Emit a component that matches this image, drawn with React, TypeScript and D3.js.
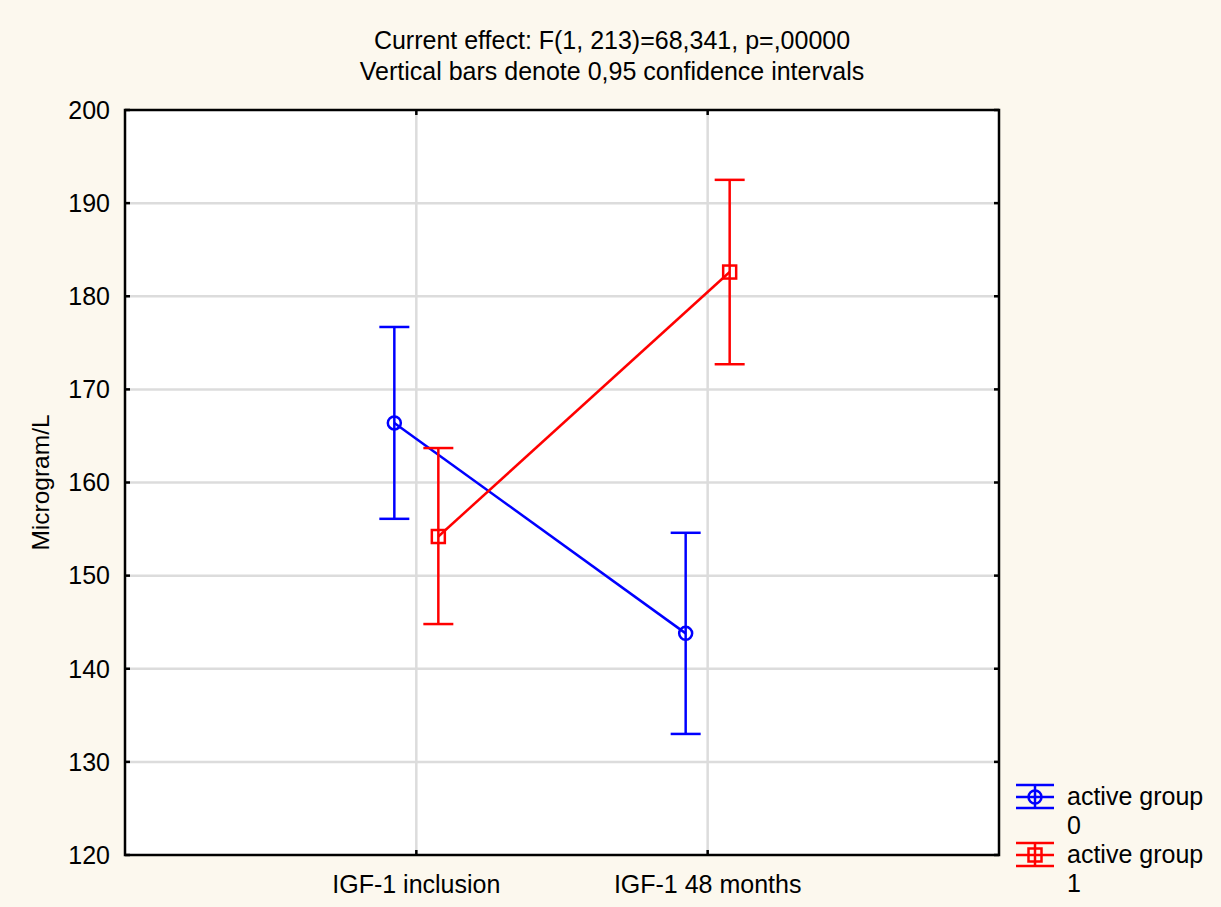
import React from 'react';
import * as d3 from 'd3';

const categories = ['IGF-1 inclusion', 'IGF-1 48 months'];
const groupNames = ['active group\n0', 'active group\n1'];
const group0Mean = [166.4, 143.8];
const group0Low = [156.1, 133.0];
const group0High = [176.7, 154.6];
const group1Mean = [154.2, 182.6];
const group1Low = [144.8, 172.7];
const group1High = [163.7, 192.5];
const yTicks = [120, 130, 140, 150, 160, 170, 180, 190, 200];
const titleLines = [
  'Current effect: F(1, 213)=68,341, p=,00000',
  'Vertical bars denote 0,95 confidence intervals',
];

const W = 1221;
const H = 907;
const m = { left: 125, right: 999, top: 110, bottom: 855 };
const font = '"Liberation Sans", Arial, sans-serif';

const series = [
  { name: groupNames[0], mean: group0Mean, low: group0Low, high: group0High, color: '#0000ff', shape: 'circle', shift: -22 },
  { name: groupNames[1], mean: group1Mean, low: group1Low, high: group1High, color: '#ff0000', shape: 'square', shift: 22 },
];

const x = d3.scalePoint<string>().domain(categories).range([m.left, m.right]).padding(1);
const y = d3.scaleLinear().domain([120, 200]).range([m.bottom, m.top]);

const Marker = ({ cx, cy, shape, color }: any) =>
  shape === 'circle'
    ? <circle cx={cx} cy={cy} r={6.5} fill="none" stroke={color} strokeWidth={2.5} />
    : <rect x={cx - 6.5} y={cy - 6.5} width={13} height={13} fill="none" stroke={color} strokeWidth={2.5} />;

const ErrorBar = ({ cx, lo, hi, color, half = 15 }: any) => (
  <g stroke={color} strokeWidth={2.5}>
    <line x1={cx} x2={cx} y1={lo} y2={hi} />
    <line x1={cx - half} x2={cx + half} y1={lo} y2={lo} />
    <line x1={cx - half} x2={cx + half} y1={hi} y2={hi} />
  </g>
);

export default function App() {
  const line = d3.line<[number, number]>().x(d => d[0]).y(d => d[1]);
  return (
    <svg width={W} height={H} style={{ position: 'absolute', left: 0, top: 0, display: 'block' }} fontFamily={font}>
      <rect width={W} height={H} fill="#fcf8ee" />
      <rect x={m.left} y={m.top} width={m.right - m.left} height={m.bottom - m.top} fill="#ffffff" />
      {titleLines.map((t, i) => (
        <text key={t} x={612} y={49 + i * 31} textAnchor="middle" fontSize={25} fill="#000">{t}</text>
      ))}
      {/* grid */}
      {yTicks.slice(1, -1).map(v => (
        <line key={v} x1={m.left} x2={m.right} y1={y(v)} y2={y(v)} stroke="#dcdcdc" strokeWidth={2.5} />
      ))}
      {categories.map(c => (
        <line key={c} x1={x(c)} x2={x(c)} y1={m.top} y2={m.bottom} stroke="#dcdcdc" strokeWidth={2.5} />
      ))}
      {/* series */}
      {series.map(s => {
        const pts = categories.map((c, i) => [(x(c) as number) + s.shift, y(s.mean[i])] as [number, number]);
        return (
          <g key={s.name}>
            <path d={line(pts) || ''} fill="none" stroke={s.color} strokeWidth={2.5} />
            {categories.map((c, i) => (
              <g key={c}>
                <ErrorBar cx={pts[i][0]} lo={y(s.low[i])} hi={y(s.high[i])} color={s.color} />
                <Marker cx={pts[i][0]} cy={pts[i][1]} shape={s.shape} color={s.color} />
              </g>
            ))}
          </g>
        );
      })}
      {/* frame + inward ticks */}
      <rect x={m.left} y={m.top} width={m.right - m.left} height={m.bottom - m.top} fill="none" stroke="#000" strokeWidth={2.5} />
      {yTicks.map(v => (
        <g key={v}>
          <line x1={m.left} x2={m.left + 5} y1={y(v)} y2={y(v)} stroke="#000" strokeWidth={2.5} />
          <line x1={m.right - 5} x2={m.right} y1={y(v)} y2={y(v)} stroke="#000" strokeWidth={2.5} />
          <text x={110} y={y(v)} dy="0.35em" textAnchor="end" fontSize={25} fill="#000">{v}</text>
        </g>
      ))}
      {categories.map(c => (
        <g key={c}>
          <line x1={x(c)} x2={x(c)} y1={m.bottom} y2={m.bottom - 5} stroke="#000" strokeWidth={2.5} />
          <line x1={x(c)} x2={x(c)} y1={m.top} y2={m.top + 5} stroke="#000" strokeWidth={2.5} />
          <text x={x(c)} y={893} textAnchor="middle" fontSize={25} fill="#000">{c}</text>
        </g>
      ))}
      <text transform={`translate(49,${(m.top + m.bottom) / 2}) rotate(-90)`} textAnchor="middle" fontSize={24.5} fill="#000">Microgram/L</text>
      {/* legend */}
      {series.map((s, i) => {
        const ly = 797 + i * 58;
        return (
          <g key={s.name}>
            <g stroke={s.color} strokeWidth={2.5}>
              <line x1={1016} x2={1054} y1={ly - 12} y2={ly - 12} />
              <line x1={1016} x2={1054} y1={ly} y2={ly} />
              <line x1={1016} x2={1054} y1={ly + 11} y2={ly + 11} />
              <line x1={1035} x2={1035} y1={ly - 12} y2={ly + 11} />
            </g>
            <Marker cx={1035} cy={ly} shape={s.shape} color={s.color} />
            {s.name.split('\n').map((t, j) => (
              <text key={j} x={1067} y={ly + 8 + j * 29} fontSize={25} fill="#000">{t}</text>
            ))}
          </g>
        );
      })}
    </svg>
  );
}
